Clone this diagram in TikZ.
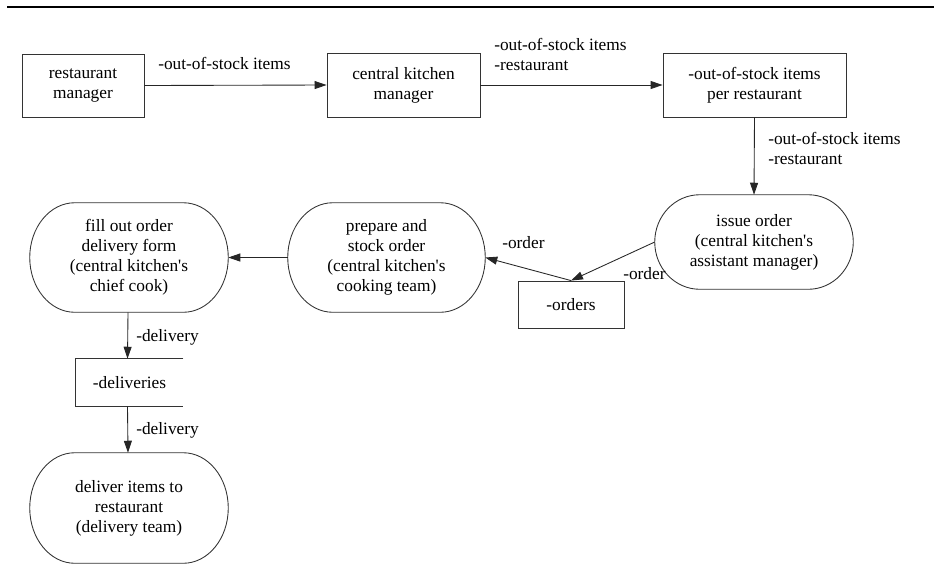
\documentclass[tikz,border=0pt]{standalone}
\usepackage{fontspec}
\setmainfont{Liberation Serif}[Ligatures=TeXOff]
\usetikzlibrary{arrows.meta,calc}

% stadium outline with elliptical ends drawn around an invisible node
\newcommand\stadiumoutline[1]{%
  \draw[shape line] let \p1=(#1.north), \p2=(#1.south), \n1={(\y1-\y2)/2} in
    ([xshift=33.75pt]#1.north west) -- ([xshift=-33.75pt]#1.north east)
    arc[start angle=90, end angle=-90, x radius=33.75pt, y radius=\n1]
    -- ([xshift=33.75pt]#1.south west)
    arc[start angle=270, end angle=90, x radius=33.75pt, y radius=\n1]
    -- cycle;}

\begin{document}
\begin{tikzpicture}[x=0.75pt, y=-0.75pt,
  every node/.style={font=\rmfamily\fontsize{13}{15}\selectfont, inner sep=0pt, align=center},
  shape line/.style={draw=black!80, line width=0.65pt},
  entity/.style={shape line, rectangle},
  process/.style={rectangle},
  store/.style={rectangle},
  flow/.style={draw=black!85, line width=0.65pt, -{Triangle[length=9pt,width=6pt]}},
  flowlabel/.style={align=left}
]
\useasboundingbox (0,0) rectangle (934,576);

% heading rule
\draw[line width=1.5pt] (7,6.7) -- (934,6.7);

% top row: external entities and the stock list
\node[entity, minimum width=91.5pt, minimum height=47.25pt] (rm) at (83,85.5) {restaurant\\manager};
\node[entity, minimum width=114.75pt, minimum height=48pt] (ckm) at (403.5,85) {central kitchen\\manager};
\node[entity, minimum width=137.25pt, minimum height=48pt] (oos) at (754.5,85) {-out-of-stock items\\per restaurant};

% processes
\node[process, minimum width=148.5pt, minimum height=70.5pt] (issue) at (754,242) {issue order\\(central kitchen's\\assistant manager)};
\node[process, minimum width=147.75pt, minimum height=81.75pt] (prep) at (386.5,257.5) {prepare and\\stock order\\(central kitchen's\\cooking team)};
\node[process, minimum width=148.5pt, minimum height=81.75pt] (fill) at (129,257.5) {fill out order\\delivery form\\(central kitchen's\\chief cook)};
\node[process, minimum width=148.5pt, minimum height=82.5pt] (deliver) at (129,508) {deliver items to\\restaurant\\(delivery team)};
\stadiumoutline{issue}
\stadiumoutline{prep}
\stadiumoutline{fill}
\stadiumoutline{deliver}

% data stores
\node[store, entity, minimum width=79.5pt, minimum height=35.25pt] (orders) at (571,304.5) {-orders};
\node[store, minimum width=80.25pt, minimum height=35.25pt] (deliveries) at (129.5,382.5) {-deliveries};
\draw[shape line] (deliveries.north east) -- (deliveries.north west) -- (deliveries.south west) -- (deliveries.south east);

% flows
\draw[flow] (rm.east) -- (ckm.west);
\draw[flow] (ckm.east) -- (oos.west);
\draw[flow] (oos.south) -- (issue.north);
\draw[flow] (issue.west) -- (orders.north);
\draw[flow] (orders.north) -- (prep.east);
\draw[flow] (prep.west) -- (fill.east);
\draw[flow] ([xshift=-0.75pt]fill.south) -- ([xshift=-1.5pt]deliveries.north);
\draw[flow] ([xshift=-1.5pt]deliveries.south) -- ([xshift=-0.75pt]deliver.north);

% flow labels
\node[flowlabel, anchor=west] (l1) at (158,63) {-out-of-stock items};
\node[flowlabel, anchor=west] (l2) at (494,54) {-out-of-stock items\\-restaurant};
\node[flowlabel, anchor=west] (l3) at (768,148) {-out-of-stock items\\-restaurant};
\node[flowlabel, anchor=west] (l4) at (623,274) {-order};
\node[flowlabel, anchor=west] (l5) at (502,243) {-order};
\node[flowlabel, anchor=west] (l6) at (136,337) {-delivery};
\node[flowlabel, anchor=west] (l7) at (136,430) {-delivery};
\end{tikzpicture}
\end{document}
